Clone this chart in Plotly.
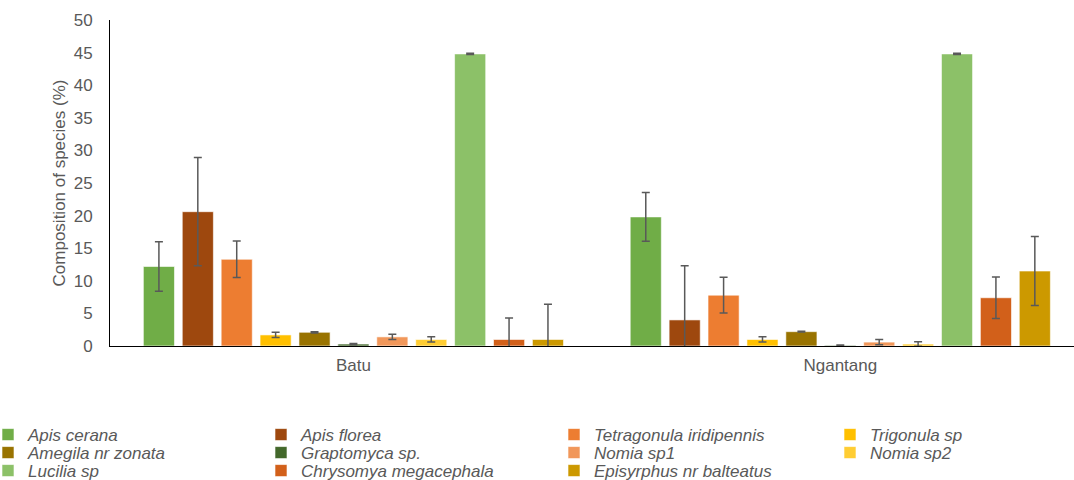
import plotly.graph_objects as go

sites = ["Batu", "Ngantang"]
species = ["Apis cerana", "Apis florea", "Tetragonula iridipennis", "Trigonula sp",
           "Amegila nr zonata", "Graptomyca sp.", "Nomia sp1", "Nomia sp2",
           "Lucilia sp", "Chrysomya megacephala", "Episyrphus nr balteatus"]
batu = [12.2, 20.6, 13.3, 1.7, 2.1, 0.3, 1.4, 1.0, 44.8, 1.0, 1.0]
batu_err = [3.8, 8.3, 2.8, 0.4, 0.1, 0.1, 0.4, 0.4, 0.1, 3.3, 5.4]
ngantang = [19.8, 4.0, 7.8, 1.0, 2.2, 0.1, 0.6, 0.3, 44.8, 7.4, 11.5]
ngantang_err = [3.75, 8.3, 2.75, 0.4, 0.05, 0.05, 0.4, 0.35, 0.1, 3.2, 5.3]
colors = ["#70AD47", "#9E480E", "#ED7D31", "#FFC000", "#997300", "#43682B",
          "#F1975A", "#FFCD33", "#8CC168", "#D2601A", "#CC9900"]

font = "Arial, Liberation Sans, sans-serif"
TXT = "#595959"
L, W, T, H = 110, 964, 20, 326
# legend grid (4 columns, filled row by row): each entry gets its own legend box
col_px = [-12, 261, 554, 830]
row_px = [435, 453, 471]

fig = go.Figure()
layout_legends = {}
for i, sp in enumerate(species):
    lid = "legend" if i == 0 else f"legend{i + 1}"
    fig.add_trace(go.Bar(
        name=sp, x=sites, y=[batu[i], ngantang[i]],
        legend=lid,
        marker=dict(color=colors[i], line=dict(color="rgba(255,255,255,0.6)", width=1)),
        error_y=dict(type="data", array=[batu_err[i], ngantang_err[i]],
                     color=TXT, thickness=1.5, width=4),
    ))
    c, r = i % 4, i // 4
    layout_legends[lid] = dict(
        orientation="v", x=(col_px[c] - L) / W, xanchor="left",
        y=(T + H - row_px[r]) / H, yanchor="middle",
        font=dict(family=font, size=17, color=TXT, style="italic"),
        bgcolor="rgba(0,0,0,0)", itemwidth=30,
    )

fig.update_layout(
    width=1074, height=480,
    barmode="group", bargap=0.121, bargroupgap=0.2,
    plot_bgcolor="white", paper_bgcolor="white",
    margin=dict(l=L, r=0, t=T, b=480 - T - H, autoexpand=False),
    font=dict(family=font, size=17, color=TXT),
    xaxis=dict(range=[-0.5, 1.48], showline=True, linecolor="black", linewidth=1,
               ticks="", showgrid=False, ticklabelstandoff=4,
               tickfont=dict(size=17, color=TXT)),
    yaxis=dict(range=[0, 50], dtick=5, showline=True, linecolor="black", linewidth=1,
               ticks="", showgrid=False, zeroline=False, ticklabelstandoff=13,
               automargin=True,
               title=dict(text="Composition of species (%)", standoff=3,
                          font=dict(size=17, color=TXT)),
               tickfont=dict(size=17, color=TXT)),
    showlegend=True,
    **layout_legends,
)
fig.write_html("out.html")
